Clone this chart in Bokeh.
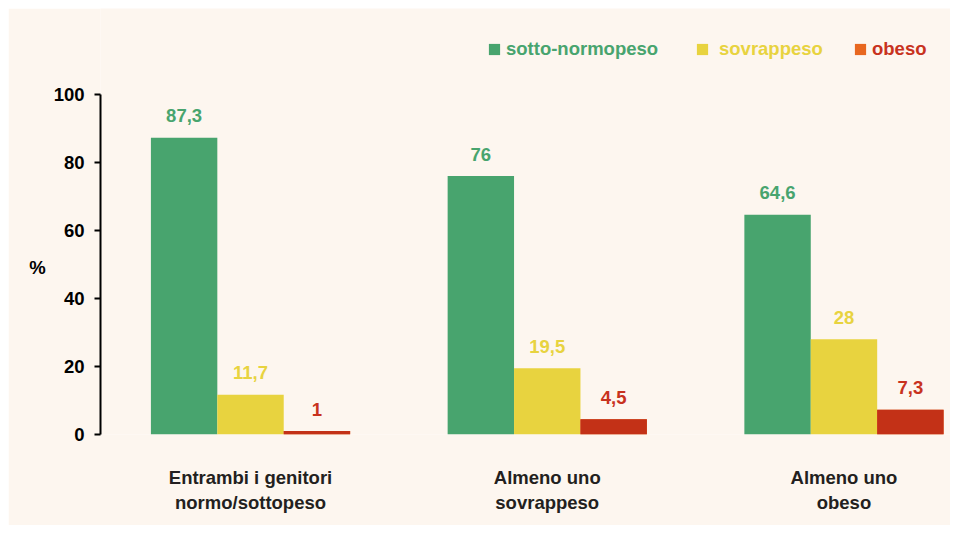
from bokeh.plotting import figure
from bokeh.models import Range1d, FixedTicker, ColumnDataSource, Legend, LegendItem
from bokeh.transform import dodge
from bokeh.core.properties import value
from bokeh.embed import file_html
from bokeh.resources import INLINE

# ---- data ----
groups = ["Entrambi i genitori\nnormo/sottopeso", "Almeno uno\nsovrappeso", "Almeno uno\nobeso"]
series = ["sotto-normopeso", "sovrappeso", "obeso"]
sotto = [87.3, 76, 64.6]
sovra = [11.7, 19.5, 28]
obeso = [1, 4.5, 7.3]
yticks = [0, 20, 40, 60, 80, 100]
y_title = "%"

# ---- style ----
BG = "#fdf6ef"
bar_colors = ["#48a46e", "#e8d33f", "#c33117"]
text_colors = ["#48a46e", "#e8d33f", "#c8321e"]
swatch_colors = ["#48a46e", "#e8d33f", "#e8671f"]
FONT = "Liberation Sans"
FS = "18.5px"
BW = 0.2238
Y_TOP = 125.3   # room above the axis for the legend


def fmt(v):
    return f"{v:g}".replace(".", ",")


gidx = list(range(len(groups)))
src = ColumnDataSource(dict(
    g=gidx,
    sotto=sotto, sovra=sovra, obeso=obeso,
    sotto_l=[fmt(v) for v in sotto],
    sovra_l=[fmt(v) for v in sovra],
    obeso_l=[fmt(v) for v in obeso],
))

p = figure(width=942, height=517,
           x_range=Range1d(-0.5056, 2.359), y_range=Range1d(0, Y_TOP),
           output_backend="svg", toolbar_location=None,
           min_border_left=92, min_border_right=0, min_border_top=0, min_border_bottom=91,
           background_fill_color=BG, border_fill_color=BG, outline_line_color=None)
p.margin = (8, 8, 8, 8)

cols = ["sotto", "sovra", "obeso"]
offsets = [-BW, 0, BW]
legend_renderers = []
for col, off, bc, tc, sc in zip(cols, offsets, bar_colors, text_colors, swatch_colors):
    xd = dodge("g", off, range=p.x_range)
    lr = None
    if sc != bc:
        # swatch-coloured renderer for the legend, fully covered by the bar drawn next
        lr = p.vbar(x=xd, top=col, width=BW, bottom=0, source=src,
                    fill_color=sc, line_color=None)
    br = p.vbar(x=xd, top=col, width=BW, bottom=0, source=src,
                fill_color=bc, line_color=None)
    legend_renderers.append(lr if lr is not None else br)
    p.text(x=xd, y=col, text=col + "_l", source=src,
           text_align="center", text_baseline="middle", y_offset=-22,
           text_color=tc, text_font=value(FONT), text_font_style="bold",
           text_font_size=FS)

p.xgrid.visible = False
p.ygrid.visible = False

ya = p.yaxis[0]
ya.ticker = FixedTicker(ticks=yticks)
ya.bounds = (yticks[0], yticks[-1])
# leading empty lines push the title down to the middle of the 0-100 axis
ya.axis_label = "\n" * 4 + y_title
ya.axis_label_orientation = "horizontal"
ya.axis_label_standoff = 5
ya.axis_label_text_line_height = 1.1
ya.axis_label_text_font = FONT
ya.axis_label_text_font_style = "bold"
ya.axis_label_text_font_size = FS
ya.axis_label_text_color = "#000000"
ya.axis_line_width = 2
ya.axis_line_color = "#000000"
ya.major_tick_line_width = 2
ya.major_tick_line_color = "#000000"
ya.major_tick_out = 6
ya.major_tick_in = 0
ya.minor_tick_line_color = None
ya.major_label_standoff = 10
ya.major_label_text_font = FONT
ya.major_label_text_font_style = "bold"
ya.major_label_text_font_size = FS
ya.major_label_text_color = "#000000"

xa = p.xaxis[0]
xa.ticker = FixedTicker(ticks=gidx)
xa.major_label_overrides = {i: g for i, g in zip(gidx, groups)}
xa.axis_line_color = None
xa.major_tick_line_color = None
xa.minor_tick_line_color = None
xa.major_label_standoff = 26
xa.major_label_text_font = FONT
xa.major_label_text_font_style = "bold"
xa.major_label_text_font_size = FS
xa.major_label_text_color = "#231f20"

# ---- legend (one per item, each with its own text colour) ----
leg_x = [387, 595, 753]
leg_standoff = [5, 10, 5]
for name, r, tc, lx, so in zip(series, legend_renderers, text_colors, leg_x, leg_standoff):
    lg = Legend(items=[LegendItem(label=value(name), renderers=[r])],
                location=(lx, 374), orientation="horizontal",
                padding=0, margin=0, spacing=0,
                glyph_width=14, glyph_height=14, label_height=14,
                label_standoff=so,
                label_text_color=tc, label_text_font=FONT,
                label_text_font_style="bold", label_text_font_size=FS,
                background_fill_alpha=0, border_line_color=None,
                click_policy="none")
    p.add_layout(lg)

open("out.html", "w").write(file_html(p, INLINE))
